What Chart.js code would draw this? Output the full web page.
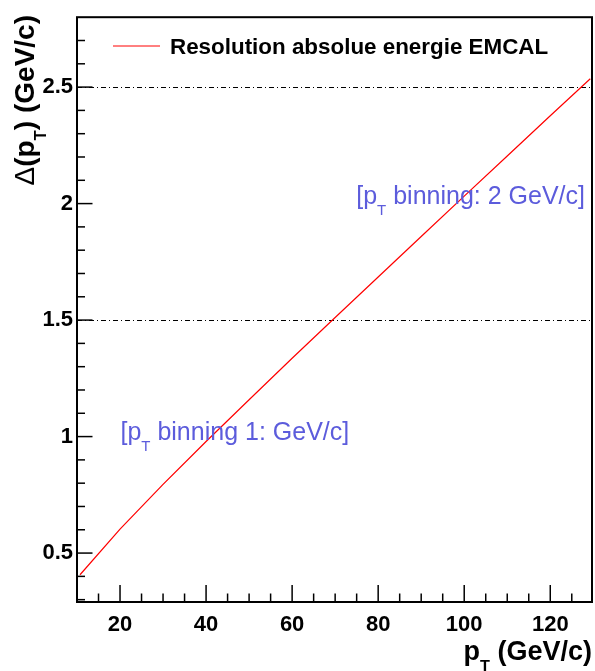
<!DOCTYPE html>
<html>
<head>
<meta charset="utf-8">
<script src="https://cdn.jsdelivr.net/npm/chart.js@4"></script>
<style>
  body { margin: 0; background: #fff; }
  canvas { display: block; }
</style>
</head>
<body>
<canvas id="resChart" width="595" height="671"></canvas>
<script>
// values
const ptValues = [10.7, 20, 30, 40, 50, 60, 70, 80, 90, 100, 110, 120, 129.3];
const resolution = [0.407, 0.603, 0.795, 0.979, 1.158, 1.336, 1.511, 1.685, 1.859, 2.032, 2.204, 2.377, 2.536];
const xTickValues = [20, 40, 60, 80, 100, 120];
const yTickValues = [0.5, 1, 1.5, 2, 2.5];
const dashLevels = [1.5, 2.5];
const noteX = [20.1, 74.9];
const noteY = [0.987, 2.0];
const noteText = [
    [{ t: '[p' }, { t: 'T', sub: true }, { t: ' binning 1: GeV/c]' }],
    [{ t: '[p' }, { t: 'T', sub: true }, { t: ' binning: 2 GeV/c]' }]
];
const legendLabel = 'Resolution absolue energie EMCAL';

const FONT = '"Liberation Sans", Arial, Helvetica, sans-serif';
const BLUE = '#5c5cdc';

function partFont(p, size, weight) {
    const s = p.sub ? size * 0.6 : size;
    const w = p.weight || weight;
    return w + ' ' + s + 'px ' + FONT;
}

function richWidth(ctx, parts, size, weight) {
    let w = 0;
    parts.forEach(p => {
        ctx.font = partFont(p, size, weight);
        w += ctx.measureText(p.t).width;
    });
    return w;
}

// draws text with subscripts, starting at (x, y) in current transform
function drawRich(ctx, parts, x, y, size, weight, color, align) {
    let cx = align === 'right' ? x - richWidth(ctx, parts, size, weight) : x;
    ctx.fillStyle = color;
    ctx.textAlign = 'left';
    ctx.textBaseline = 'alphabetic';
    parts.forEach(p => {
        ctx.font = partFont(p, size, weight);
        ctx.fillText(p.t, cx, y + (p.sub ? size * 0.45 : 0));
        cx += ctx.measureText(p.t).width;
    });
}

function seg(ctx, x1, y1, x2, y2) {
    ctx.beginPath();
    ctx.moveTo(x1, y1);
    ctx.lineTo(x2, y2);
    ctx.stroke();
}

const rootStyle = {
    id: 'rootStyle',
    beforeDatasetsDraw(chart) {
        const { ctx, chartArea: a, scales: { y } } = chart;
        ctx.save();
        ctx.strokeStyle = '#000';
        ctx.lineWidth = 1;
        ctx.setLineDash([5, 3, 1, 3]);
        dashLevels.forEach(v => {
            const py = Math.round(y.getPixelForValue(v)) + 0.5;
            seg(ctx, a.left, py, a.right, py);
        });
        ctx.restore();
    },
    afterDatasetsDraw(chart) {
        const { ctx, chartArea: a, scales: { x, y } } = chart;
        ctx.save();
        ctx.strokeStyle = '#000';

        // ticks pointing inside the frame
        ctx.lineWidth = 1.5;
        for (let v = 15; v < x.max; v += 5) {
            const px = x.getPixelForValue(v);
            const len = v % 20 === 0 ? 17 : 8.5;
            seg(ctx, px, a.bottom, px, a.bottom - len);
        }
        for (let i = 3; i <= 27; i++) {
            const v = i / 10;
            const py = y.getPixelForValue(v);
            const len = i % 5 === 0 ? 15.5 : 8;
            seg(ctx, a.left, py, a.left + len, py);
        }

        // frame
        ctx.lineWidth = 2;
        ctx.strokeRect(a.left, a.top, a.right - a.left, a.bottom - a.top);

        // legend
        ctx.strokeStyle = '#ff0000';
        ctx.lineWidth = 1;
        seg(ctx, 113, 46, 160, 46);
        ctx.fillStyle = '#000';
        ctx.font = 'bold 22.4px ' + FONT;
        ctx.textAlign = 'left';
        ctx.textBaseline = 'alphabetic';
        ctx.fillText(legendLabel, 170, 53.5);

        // text notes at data positions
        noteText.forEach((parts, i) => {
            drawRich(ctx, parts, x.getPixelForValue(noteX[i]), y.getPixelForValue(noteY[i]), 25, 'normal', BLUE, 'left');
        });

        // axis titles
        drawRich(ctx, [{ t: 'p' }, { t: 'T', sub: true }, { t: ' (GeV/c)' }], a.right, 660, 27, 'bold', '#000', 'right');

        ctx.translate(33.5, 15);
        ctx.rotate(-Math.PI / 2);
        drawRich(ctx, [{ t: '\u0394', weight: 'normal' }, { t: '(p' }, { t: 'T', sub: true }, { t: ') (GeV/c)' }],
            0, 0, 28, 'bold', '#000', 'right');
        ctx.restore();
    }
};

const ctx = document.getElementById('resChart').getContext('2d');
const resChart = new Chart(ctx, {
    type: 'line',
    data: {
        datasets: [{
            label: legendLabel,
            data: ptValues.map((v, i) => ({ x: v, y: resolution[i] })),
            borderColor: '#ff0000',
            borderWidth: 1.2,
            pointRadius: 0,
            fill: false,
            tension: 0
        }]
    },
    options: {
        responsive: false,
        animation: false,
        devicePixelRatio: 1,
        layout: { padding: { top: 17, right: 3, left: 0, bottom: 0 } },
        plugins: {
            legend: { display: false },
            tooltip: { enabled: false }
        },
        scales: {
            x: {
                type: 'linear',
                min: 10,
                max: 129.7,
                grid: { display: false, drawTicks: false },
                border: { display: false },
                afterBuildTicks: s => { s.ticks = xTickValues.map(v => ({ value: v })); },
                afterFit: s => { s.height = 69; },
                ticks: {
                    padding: 10,
                    color: '#000',
                    font: { family: FONT, size: 22, weight: 'bold' },
                    maxRotation: 0
                }
            },
            y: {
                type: 'linear',
                min: 0.29,
                max: 2.8,
                grid: { display: false, drawTicks: false },
                border: { display: false },
                afterBuildTicks: s => { s.ticks = yTickValues.map(v => ({ value: v })); },
                afterFit: s => { s.width = 77; },
                ticks: {
                    padding: 4,
                    color: '#000',
                    font: { family: FONT, size: 22, weight: 'bold' },
                    callback: v => String(v)
                }
            }
        }
    },
    plugins: [rootStyle]
});
</script>
</body>
</html>
